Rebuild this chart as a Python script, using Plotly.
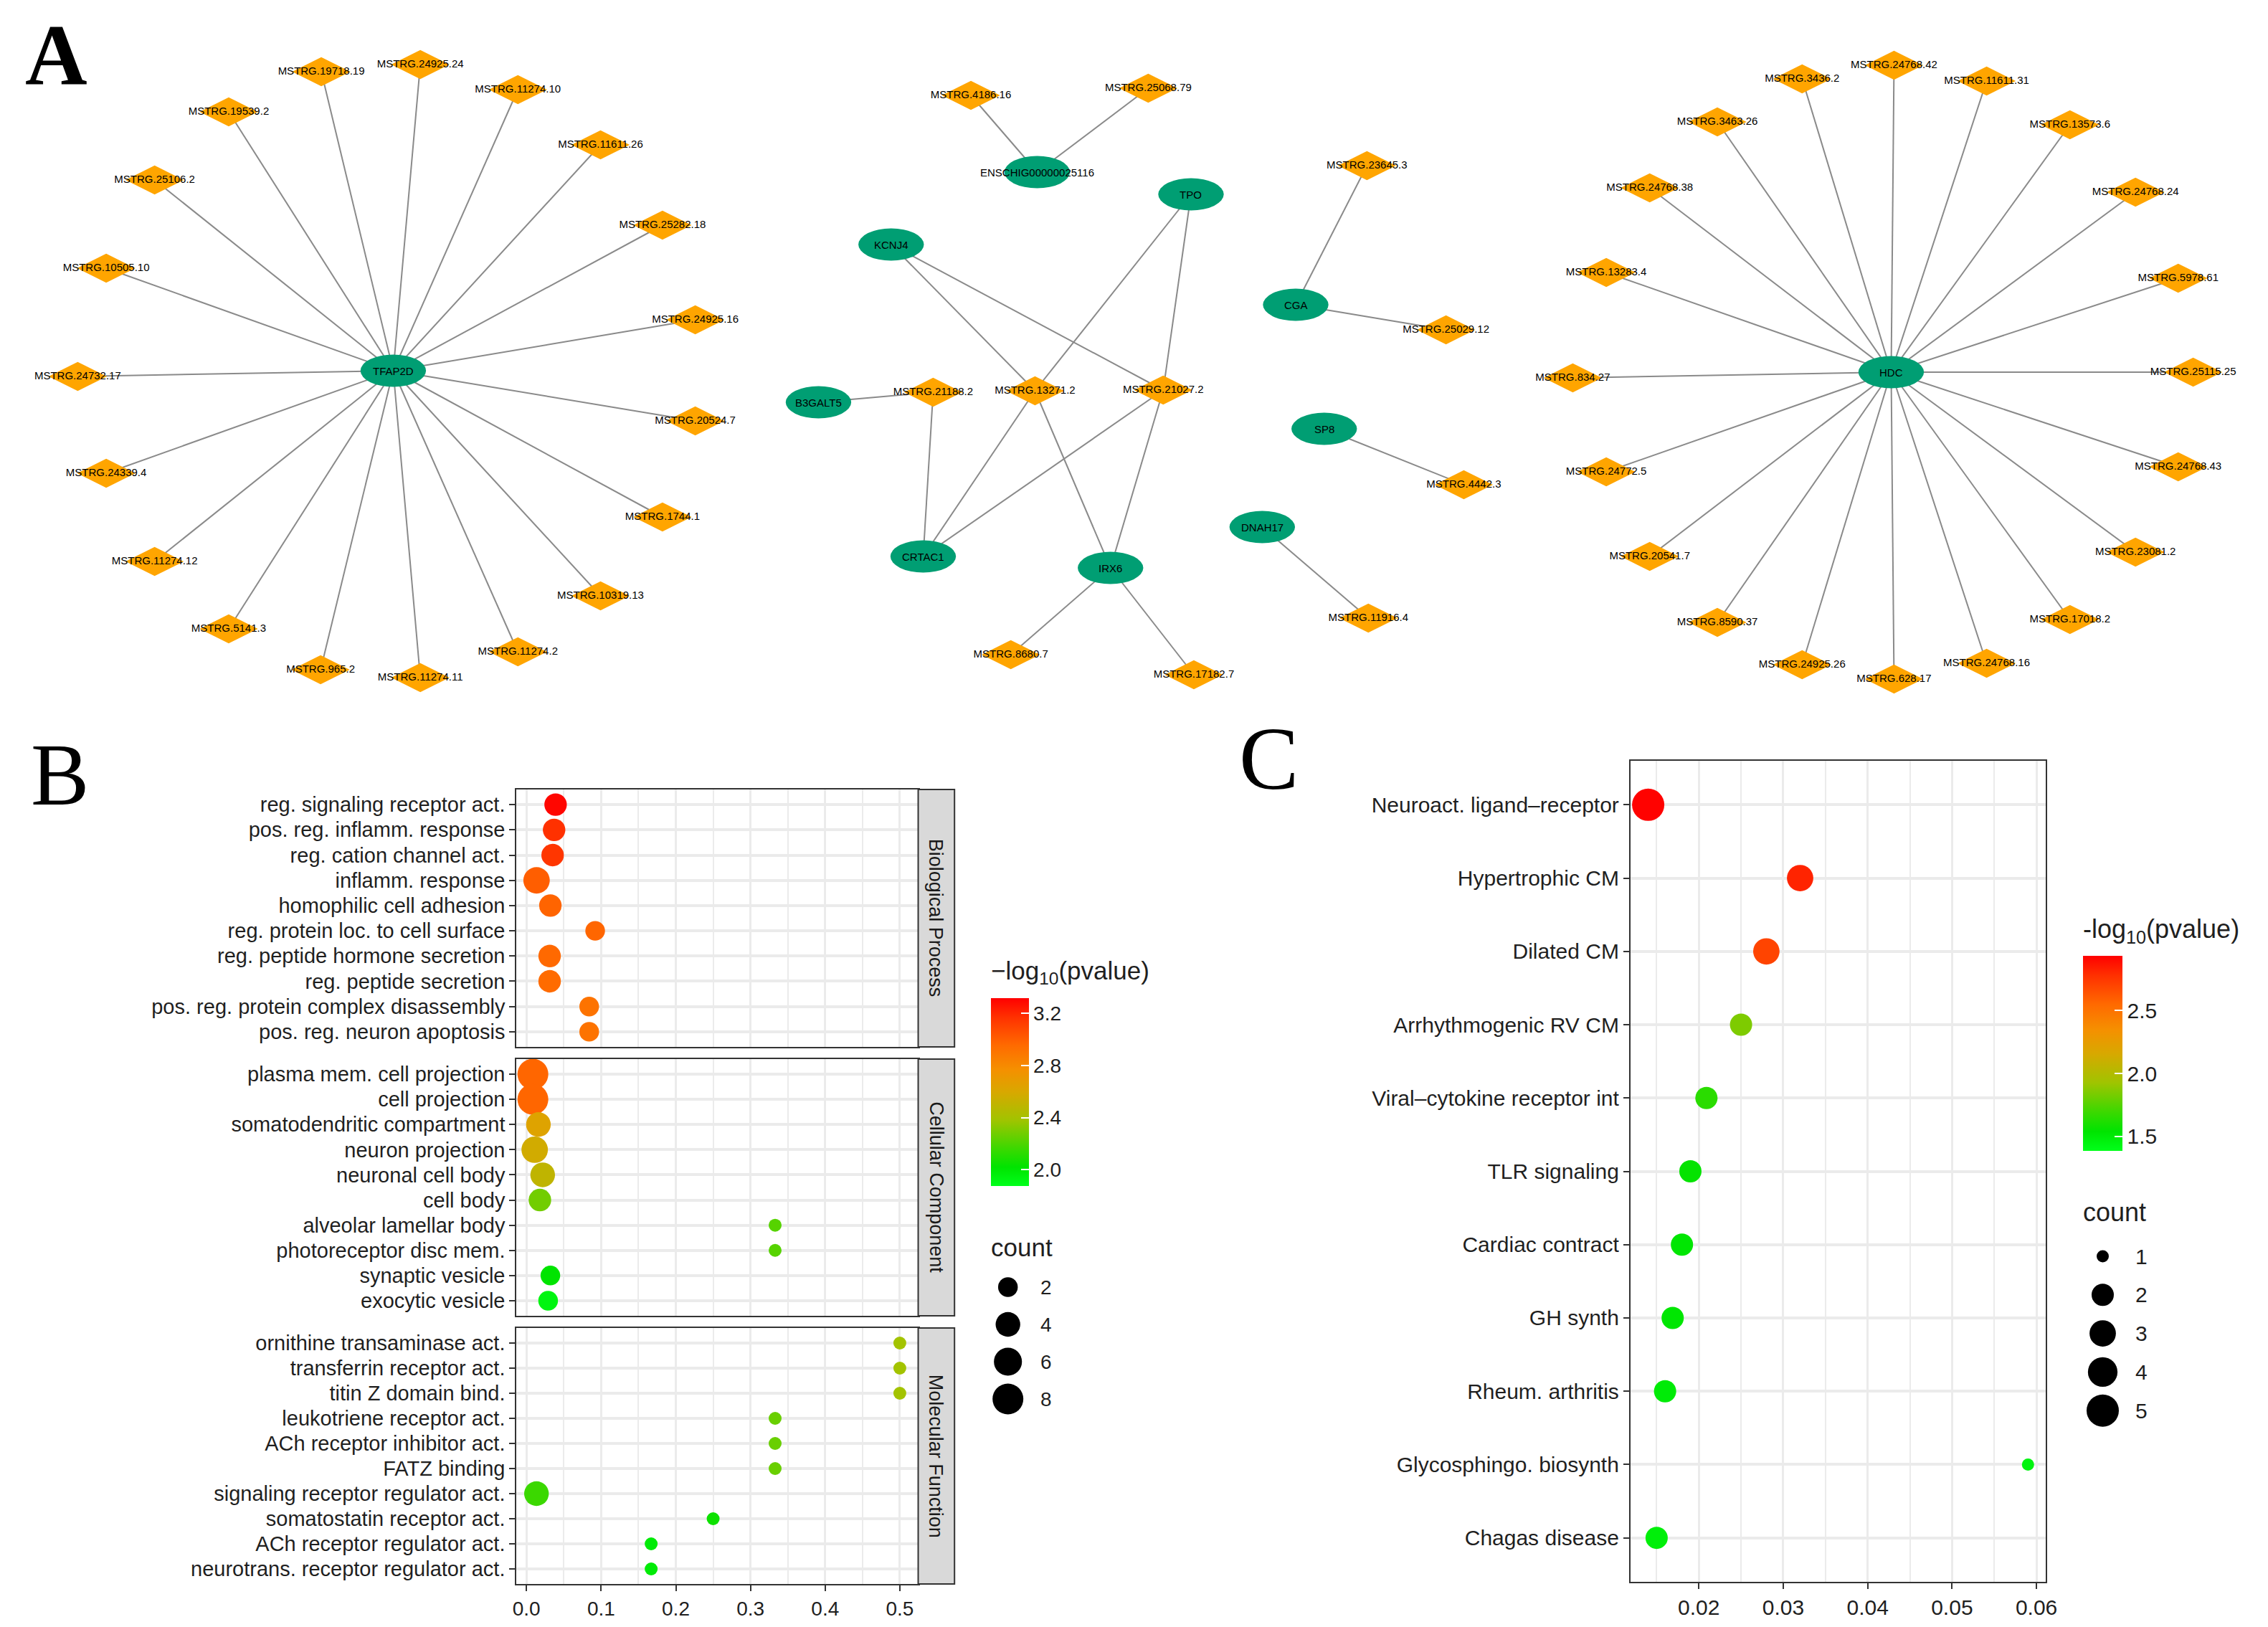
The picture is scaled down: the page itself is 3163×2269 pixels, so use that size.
import math
import plotly.graph_objects as go

W, H = 3163, 2269

# ---------------- Panel A : co-expression network ----------------
gene_nodes = ["TFAP2D", "ENSCHIG00000025116", "TPO", "KCNJ4", "CGA", "B3GALT5",
              "SP8", "DNAH17", "CRTAC1", "IRX6", "HDC"]
gene_x = [539, 1443, 1659, 1238, 1806, 1136, 1846, 1759, 1283, 1546, 2642]
gene_y = [509, 232, 263, 333, 417, 553, 590, 727, 768, 784, 511]

lnc_left = ["MSTRG.19718.19", "MSTRG.24925.24", "MSTRG.11274.10", "MSTRG.19539.2",
            "MSTRG.11611.26", "MSTRG.25106.2", "MSTRG.25282.18", "MSTRG.10505.10",
            "MSTRG.24925.16", "MSTRG.24732.17", "MSTRG.20524.7", "MSTRG.24339.4",
            "MSTRG.1744.1", "MSTRG.11274.12", "MSTRG.10319.13", "MSTRG.5141.3",
            "MSTRG.11274.2", "MSTRG.965.2", "MSTRG.11274.11"]
lnc_left_x = [438, 577, 714, 308, 830, 204, 917, 136, 963, 96, 963, 136, 917, 204, 830, 308, 714, 437, 577]
lnc_left_y = [92, 82, 117, 148, 194, 243, 306, 366, 438, 517, 579, 652, 713, 775, 823, 869, 901, 926, 937]

lnc_mid = ["MSTRG.4186.16", "MSTRG.25068.79", "MSTRG.23645.3", "MSTRG.25029.12",
           "MSTRG.21188.2", "MSTRG.13271.2", "MSTRG.21027.2", "MSTRG.4442.3",
           "MSTRG.11916.4", "MSTRG.8680.7", "MSTRG.17182.7"]
lnc_mid_x = [1350, 1599, 1906, 2017, 1297, 1440, 1620, 2042, 1908, 1406, 1663]
lnc_mid_y = [125, 115, 223, 452, 539, 537, 536, 668, 854, 905, 933]

lnc_right = ["MSTRG.24768.42", "MSTRG.3436.2", "MSTRG.11611.31", "MSTRG.3463.26",
             "MSTRG.13573.6", "MSTRG.24768.38", "MSTRG.24768.24", "MSTRG.13283.4",
             "MSTRG.5978.61", "MSTRG.834.27", "MSTRG.25115.25", "MSTRG.24772.5",
             "MSTRG.24768.43", "MSTRG.20541.7", "MSTRG.23081.2", "MSTRG.8590.37",
             "MSTRG.17018.2", "MSTRG.24925.26", "MSTRG.24768.16", "MSTRG.628.17"]
lnc_right_x = [2646, 2517, 2776, 2398, 2893, 2303, 2985, 2242, 3045, 2195, 3066, 2242,
               3045, 2303, 2985, 2398, 2893, 2517, 2776, 2646]
lnc_right_y = [83, 102, 105, 162, 166, 254, 260, 372, 380, 519, 511, 650, 643, 768,
               762, 860, 856, 919, 917, 939]

mid_edges = [("ENSCHIG00000025116", "MSTRG.4186.16"), ("ENSCHIG00000025116", "MSTRG.25068.79"),
             ("CGA", "MSTRG.23645.3"), ("CGA", "MSTRG.25029.12"),
             ("KCNJ4", "MSTRG.13271.2"), ("KCNJ4", "MSTRG.21027.2"),
             ("TPO", "MSTRG.13271.2"), ("TPO", "MSTRG.21027.2"),
             ("B3GALT5", "MSTRG.21188.2"), ("CRTAC1", "MSTRG.21188.2"),
             ("CRTAC1", "MSTRG.13271.2"), ("CRTAC1", "MSTRG.21027.2"),
             ("IRX6", "MSTRG.13271.2"), ("IRX6", "MSTRG.21027.2"),
             ("IRX6", "MSTRG.8680.7"), ("IRX6", "MSTRG.17182.7"),
             ("SP8", "MSTRG.4442.3"), ("DNAH17", "MSTRG.11916.4")]

# ---------------- Panel B : GO enrichment ----------------
bp_terms = ["reg. signaling receptor act.", "pos. reg. inflamm. response", "reg. cation channel act.",
            "inflamm. response", "homophilic cell adhesion", "reg. protein loc. to cell surface",
            "reg. peptide hormone secretion", "reg. peptide secretion",
            "pos. reg. protein complex disassembly", "pos. reg. neuron apoptosis"]
bp_ratio = [0.039, 0.037, 0.035, 0.0135, 0.032, 0.092, 0.031, 0.031, 0.084, 0.084]
bp_count = [3, 3, 3, 5, 3, 2, 3, 3, 2, 2]
bp_logp = [3.30, 3.17, 3.15, 3.00, 2.98, 2.97, 2.96, 2.95, 2.91, 2.91]

cc_terms = ["plasma mem. cell projection", "cell projection", "somatodendritic compartment",
            "neuron projection", "neuronal cell body", "cell body", "alveolar lamellar body",
            "photoreceptor disc mem.", "synaptic vesicle", "exocytic vesicle"]
cc_ratio = [0.0086, 0.0086, 0.016, 0.011, 0.0217, 0.018, 0.333, 0.333, 0.032, 0.029]
cc_count = [8, 8, 4, 5, 4, 3, 1, 1, 2, 2]
cc_logp = [2.97, 2.97, 2.63, 2.57, 2.50, 2.28, 2.22, 2.22, 2.02, 1.93]

mf_terms = ["ornithine transaminase act.", "transferrin receptor act.", "titin Z domain bind.",
            "leukotriene receptor act.", "ACh receptor inhibitor act.", "FATZ binding",
            "signaling receptor regulator act.", "somatostatin receptor act.",
            "ACh receptor regulator act.", "neurotrans. receptor regulator act."]
mf_ratio = [0.5, 0.5, 0.5, 0.333, 0.333, 0.333, 0.0134, 0.25, 0.167, 0.167]
mf_count = [1, 1, 1, 1, 1, 1, 4, 1, 1, 1]
mf_logp = [2.39, 2.39, 2.39, 2.26, 2.26, 2.26, 2.16, 2.05, 1.98, 1.98]

go_legend_counts = [2, 4, 6, 8]
go_cbar_ticks = [2.0, 2.4, 2.8, 3.2]

# ---------------- Panel C : KEGG enrichment ----------------
kegg_terms = ["Neuroact. ligand–receptor", "Hypertrophic CM", "Dilated CM", "Arrhythmogenic RV CM",
              "Viral–cytokine receptor int", "TLR signaling", "Cardiac contract", "GH synth",
              "Rheum. arthritis", "Glycosphingo. biosynth", "Chagas disease"]
kegg_ratio = [0.0140, 0.0320, 0.0280, 0.0250, 0.0209, 0.0190, 0.0180, 0.0169, 0.0160, 0.0590, 0.0150]
kegg_count = [5, 3, 3, 2, 2, 2, 2, 2, 2, 1, 2]
kegg_logp = [2.93, 2.82, 2.70, 1.85, 1.65, 1.55, 1.53, 1.53, 1.50, 1.45, 1.48]

kegg_legend_counts = [1, 2, 3, 4, 5]
kegg_cbar_ticks = [1.5, 2.0, 2.5]

# ---------------- styles ----------------
TEAL = "#009E73"
ORANGE = "#FFA500"
SANS = "Liberation Sans, Arial, sans-serif"
NARROW = "Liberation Sans Narrow, Arial Narrow, Liberation Sans, sans-serif"
SERIF = "Liberation Serif, Times New Roman, serif"
TXT = "#1f1f1f"
GRID = "#EBEBEB"
BORDER = "#333333"
CSCALE = [[0, "#00FF1A"], [0.1, "#00E400"], [0.2, "#3CD800"], [0.35, "#A0C400"],
          [0.5, "#D8A800"], [0.62, "#F59000"], [0.75, "#FF6A00"], [0.9, "#FF3000"], [1, "#FF0000"]]


def px_x(v):
    return v / W


def px_y(v):
    return 1 - v / H


def size_go(c):
    return 18 + 25 * math.sqrt((c - 1) / 7)


def size_kegg(c):
    return 17 + 28 * math.sqrt((c - 1) / 4)


def note(x, y, text, size, xref="paper", yref="paper", xanchor="center", yanchor="middle",
         family=SANS, color=TXT, angle=0):
    return dict(x=x, y=y, xref=xref, yref=yref, xanchor=xanchor, yanchor=yanchor,
                text=text, showarrow=False, textangle=angle,
                font=dict(family=family, size=size, color=color))


fig = go.Figure()
shapes = []
annotations = []

# ---- network ----
pos = {}
for n, x, y in zip(gene_nodes, gene_x, gene_y):
    pos[n] = (x, y)
lnc_all = lnc_left + lnc_mid + lnc_right
lnc_all_x = lnc_left_x + lnc_mid_x + lnc_right_x
lnc_all_y = lnc_left_y + lnc_mid_y + lnc_right_y
for n, x, y in zip(lnc_all, lnc_all_x, lnc_all_y):
    pos[n] = (x, y)

edges = [("TFAP2D", n) for n in lnc_left] + [("HDC", n) for n in lnc_right] + mid_edges
ex, ey = [], []
for a, b in edges:
    ex += [pos[a][0], pos[b][0], None]
    ey += [pos[a][1], pos[b][1], None]
fig.add_trace(go.Scatter(x=ex, y=ey, mode="lines", line=dict(color="#8a8a8a", width=2),
                         xaxis="x", yaxis="y", showlegend=False, hoverinfo="skip"))
fig.add_trace(go.Scatter(x=lnc_all_x, y=lnc_all_y, mode="markers+text", text=lnc_all,
                         textposition="middle center",
                         textfont=dict(family=NARROW, size=15, color="#000000"),
                         marker=dict(symbol="diamond-wide", size=58, color=ORANGE,
                                     line=dict(width=0), opacity=1),
                         xaxis="x", yaxis="y", showlegend=False, hoverinfo="skip"))
for n, x, y in zip(gene_nodes, gene_x, gene_y):
    shapes.append(dict(type="circle", xref="x", yref="y", x0=x - 46, x1=x + 46, y0=y - 22.5, y1=y + 22.5,
                       fillcolor=TEAL, line=dict(width=0), layer="above"))
    annotations.append(note(x, y, n, 15, xref="x", yref="y", family=NARROW, color="#000000"))

# ---- panel B facets ----
facets = [
    ("Biological Process", bp_terms, bp_ratio, bp_count, bp_logp, 1093, 1452),
    ("Cellular Component", cc_terms, cc_ratio, cc_count, cc_logp, 1469, 1827),
    ("Molecular Function", mf_terms, mf_ratio, mf_count, mf_logp, 1844, 2201),
]
B_X0, B_X1, STRIP_X1 = 712, 1276, 1327
layout_axes = {}
for i, (name, terms, ratio, count, logp, top, bot) in enumerate(facets):
    k = i + 2
    marker = dict(size=[size_go(c) for c in count], color=logp, colorscale=CSCALE,
                  cmin=1.875, cmax=3.317, line=dict(width=0), opacity=1)
    if i == 0:
        marker.update(showscale=True, colorbar=dict(
            x=px_x(1378), xanchor="left", y=px_y(1515), yanchor="middle",
            len=262, lenmode="pixels", thickness=53, thicknessmode="pixels",
            outlinewidth=0, xpad=0, ypad=0, tickvals=go_cbar_ticks,
            ticktext=["%.1f" % t for t in go_cbar_ticks], ticks="inside", ticklen=11,
            tickcolor="white", tickwidth=2, tickfont=dict(family=SANS, size=28, color=TXT)))
    else:
        marker.update(showscale=False)
    fig.add_trace(go.Scatter(x=ratio, y=terms, mode="markers", marker=marker,
                             xaxis="x%d" % k, yaxis="y%d" % k, showlegend=False))
    last = (i == len(facets) - 1)
    layout_axes["xaxis%d" % k] = dict(
        domain=[px_x(B_X0), px_x(B_X1)], anchor="y%d" % k, range=[-0.0134, 0.5246],
        showgrid=True, gridcolor=GRID, gridwidth=3, zeroline=False,
        showline=True, mirror=True, linecolor=BORDER, linewidth=2,
        tick0=0, dtick=0.1, tickformat=".1f",
        minor=dict(dtick=0.05, showgrid=True, gridcolor=GRID, gridwidth=1.5),
        showticklabels=last, ticks="outside" if last else "", ticklen=8, tickwidth=2,
        tickcolor=BORDER, tickfont=dict(family=SANS, size=28, color=TXT))
    layout_axes["yaxis%d" % k] = dict(
        domain=[px_y(bot), px_y(top)], anchor="x%d" % k, type="category",
        categoryorder="array", categoryarray=terms, range=[len(terms) - 0.4, -0.6],
        showgrid=True, gridcolor=GRID, gridwidth=3.5, zeroline=False,
        showline=True, mirror=True, linecolor=BORDER, linewidth=2,
        ticks="outside", ticklen=8, tickwidth=2, tickcolor=BORDER,
        tickfont=dict(family=SANS, size=29, color=TXT))
    shapes.append(dict(type="rect", xref="paper", yref="paper", x0=px_x(B_X1), x1=px_x(STRIP_X1),
                       y0=px_y(bot), y1=px_y(top), fillcolor="#D9D9D9",
                       line=dict(color=BORDER, width=2), layer="above"))
    annotations.append(note(px_x((B_X1 + STRIP_X1) / 2), px_y((top + bot) / 2), name, 27,
                            color="#1a1a1a", angle=90))

# ---- panel C ----
fig.add_trace(go.Scatter(
    x=kegg_ratio, y=kegg_terms, mode="markers", xaxis="x5", yaxis="y5", showlegend=False,
    marker=dict(size=[size_kegg(c) for c in kegg_count], color=kegg_logp, colorscale=CSCALE,
                cmin=1.386, cmax=2.935, line=dict(width=0), showscale=True, opacity=1,
                colorbar=dict(x=px_x(2911), xanchor="left", y=px_y(1461), yanchor="middle",
                              len=272, lenmode="pixels", thickness=55, thicknessmode="pixels",
                              outlinewidth=0, xpad=0, ypad=0, tickvals=kegg_cbar_ticks,
                              ticktext=["%.1f" % t for t in kegg_cbar_ticks], ticks="inside",
                              ticklen=11, tickcolor="white", tickwidth=2,
                              tickfont=dict(family=SANS, size=30, color=TXT)))))
layout_axes["xaxis5"] = dict(
    domain=[px_x(2276), px_x(2859)], anchor="y5", range=[0.0119, 0.0611],
    showgrid=True, gridcolor=GRID, gridwidth=3, zeroline=False,
    showline=True, mirror=True, linecolor=BORDER, linewidth=2,
    tick0=0, dtick=0.01, tickformat=".2f",
    minor=dict(dtick=0.005, showgrid=True, gridcolor=GRID, gridwidth=1.5),
    ticks="outside", ticklen=8, tickwidth=2, tickcolor=BORDER,
    tickfont=dict(family=SANS, size=30, color=TXT))
layout_axes["yaxis5"] = dict(
    domain=[px_y(2198), px_y(1053)], anchor="x5", type="category",
    categoryorder="array", categoryarray=kegg_terms, range=[len(kegg_terms) - 0.4, -0.6],
    showgrid=True, gridcolor=GRID, gridwidth=3.5, zeroline=False,
    showline=True, mirror=True, linecolor=BORDER, linewidth=2,
    ticks="outside", ticklen=8, tickwidth=2, tickcolor=BORDER,
    tickfont=dict(family=SANS, size=30, color=TXT))

# ---- size legends (drawn on the pixel axis) ----
b_leg_y = [1787 + 52 * i for i in range(len(go_legend_counts))]
fig.add_trace(go.Scatter(x=[1402] * len(go_legend_counts), y=b_leg_y, mode="markers",
                         marker=dict(size=[size_go(c) for c in go_legend_counts], color="black",
                                     opacity=1, line=dict(width=0)),
                         xaxis="x", yaxis="y", showlegend=False, hoverinfo="skip"))
for c, y in zip(go_legend_counts, b_leg_y):
    annotations.append(note(1446, y, str(c), 28, xref="x", yref="y", xanchor="left"))
c_leg_y = [1744 + 53.8 * i for i in range(len(kegg_legend_counts))]
fig.add_trace(go.Scatter(x=[2939] * len(kegg_legend_counts), y=c_leg_y, mode="markers",
                         marker=dict(size=[size_kegg(c) for c in kegg_legend_counts], color="black",
                                     opacity=1, line=dict(width=0)),
                         xaxis="x", yaxis="y", showlegend=False, hoverinfo="skip"))
for c, y in zip(kegg_legend_counts, c_leg_y):
    annotations.append(note(2983, y, str(c), 30, xref="x", yref="y", xanchor="left"))

# legend titles
annotations += [
    note(px_x(1376), px_y(1348), "−log<sub>10</sub>(pvalue)", 35, xanchor="left"),
    note(px_x(1376), px_y(1731), "count", 35, xanchor="left"),
    note(px_x(2909), px_y(1290), "-log<sub>10</sub>(pvalue)", 36, xanchor="left"),
    note(px_x(2909), px_y(1683), "count", 36, xanchor="left"),
]

# panel letters
annotations += [
    note(px_x(66), 1.0, "<b>A</b>", 120, yanchor="top", family=SERIF, color="#000000"),
    note(px_x(71), px_y(1072), "B", 122, family=SERIF, color="#000000"),
    note(px_x(1768), px_y(1050), "C", 125, family=SERIF, color="#000000"),
]

layout = dict(
    width=W, height=H, margin=dict(l=0, r=0, t=0, b=0),
    paper_bgcolor="white", plot_bgcolor="rgba(0,0,0,0)",
    showlegend=False, hovermode=False,
    xaxis=dict(domain=[0, 1], range=[0, W], visible=False, fixedrange=True),
    yaxis=dict(domain=[0, 1], range=[H, 0], visible=False, fixedrange=True),
    shapes=shapes, annotations=annotations,
)
layout.update(layout_axes)
fig.update_layout(**layout)

fig.write_html("out.html")
